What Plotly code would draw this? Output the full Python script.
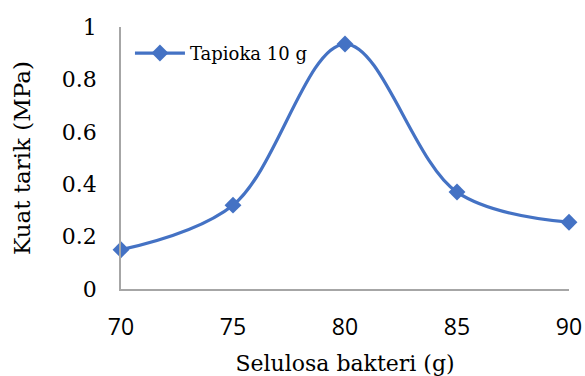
import plotly.graph_objects as go

x_vals = [70, 75, 80, 85, 90]
y_vals = [0.15, 0.32, 0.935, 0.37, 0.255]
series_name = "Tapioka 10 g"
x_title = "Selulosa bakteri (g)"
y_title = "Kuat tarik (MPa)"
y_ticks = [0, 0.2, 0.4, 0.6, 0.8, 1]
y_ticktext = ["0", "0.2", "0.4", "0.6", "0.8", "1"]
x_ticks = [70, 75, 80, 85, 90]

serif = "DejaVu Serif"
sans = "Open Sans"

fig = go.Figure()
fig.add_trace(go.Scatter(
    x=x_vals, y=y_vals, name=series_name, mode="lines+markers",
    line=dict(color="#4472C4", width=3.2, shape="spline", smoothing=1.0),
    marker=dict(symbol="diamond", size=13, color="#4472C4"),
    cliponaxis=False,
))

fig.update_layout(
    width=585, height=376,
    margin=dict(l=121, r=16, t=27, b=87),
    paper_bgcolor="white", plot_bgcolor="white",
    showlegend=True,
    legend=dict(x=0.02, y=0.97, xanchor="left", yanchor="top",
                font=dict(family=serif, size=18, color="black"),
                itemwidth=50,
                bgcolor="rgba(0,0,0,0)"),
    xaxis=dict(range=[70, 90], tickvals=x_ticks, showgrid=False, zeroline=False,
               showline=True, linecolor="#A6A6A6", linewidth=1.5,
               ticks="", ticklen=0, automargin=False, ticklabelstandoff=17,
               tickfont=dict(family=sans, size=23, color="black"),
               title=dict(text=x_title, font=dict(family=serif, size=22, color="black"), standoff=14)),
    yaxis=dict(range=[0, 1], tickvals=y_ticks, ticktext=y_ticktext, showgrid=False, zeroline=False,
               showline=True, linecolor="#A6A6A6", linewidth=1.5,
               ticks="", ticklen=0, automargin=False, ticklabelstandoff=18,
               tickfont=dict(family=serif, size=22, color="black"),
               title=dict(text=y_title, font=dict(family=serif, size=23, color="black"), standoff=25)),
)

fig.write_html("out.html")
